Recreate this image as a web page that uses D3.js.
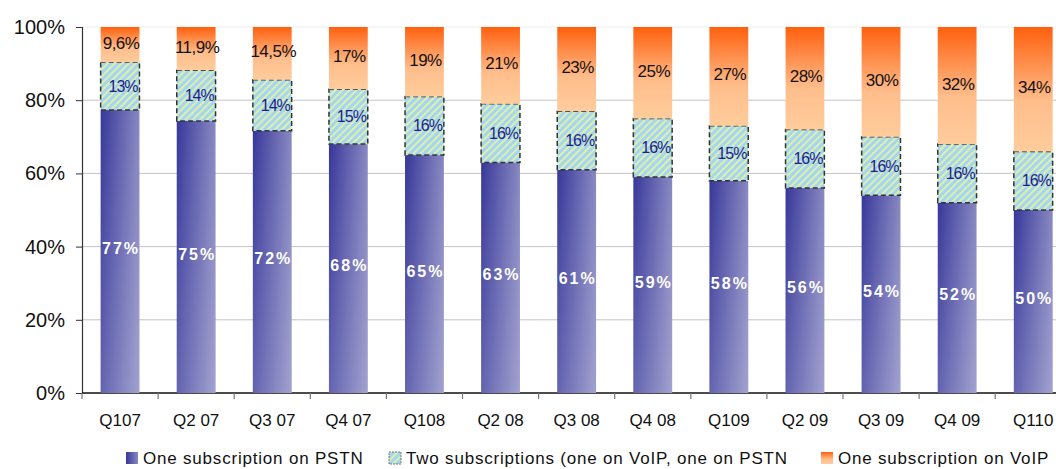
<!DOCTYPE html>
<html>
<head>
<meta charset="utf-8">
<script src="https://cdn.jsdelivr.net/npm/d3@7"></script>
<style>
  html, body { margin: 0; padding: 0; background: #fff; overflow: hidden; }
  svg { display: block; font-family: "Liberation Sans", Arial, sans-serif; }
</style>
</head>
<body>
<svg id="chart" width="1056" height="469"></svg>
<script>
// Quarters shown on the category axis
const quarters = ["Q107", "Q2 07", "Q3 07", "Q4 07", "Q108", "Q2 08", "Q3 08", "Q4 08", "Q109", "Q2 09", "Q3 09", "Q4 09", "Q110"];

// Share of subscriptions (percent) per quarter
const pstnOnly = [77, 75, 72, 68, 65, 63, 61, 59, 58, 56, 54, 52, 50];
const twoSubs = [13, 14, 14, 15, 16, 16, 16, 16, 15, 16, 16, 16, 16];
const voipOnly = [9.6, 11.9, 14.5, 17, 19, 21, 23, 25, 27, 28, 30, 32, 34];

const yTicks = [0, 20, 40, 60, 80, 100];
const seriesNames = ["One subscription on PSTN", "Two subscriptions (one on VoIP, one on  PSTN", "One subscription on VoIP"];

const svg = d3.select("#chart");
const defs = svg.append("defs");

// PSTN: dark-to-light horizontal gradient plus a soft lightening toward the bottom
const gP = defs.append("linearGradient").attr("id", "gPstn").attr("x1", 0).attr("y1", 0).attr("x2", 1).attr("y2", 0);
gP.append("stop").attr("offset", 0).attr("stop-color", "#37379a");
gP.append("stop").attr("offset", 1).attr("stop-color", "#8888c2");
const gPv = defs.append("linearGradient").attr("id", "gPstnV").attr("x1", 0).attr("y1", 0).attr("x2", 0).attr("y2", 1);
gPv.append("stop").attr("offset", 0).attr("stop-color", "#fff").attr("stop-opacity", 0);
gPv.append("stop").attr("offset", 1).attr("stop-color", "#fff").attr("stop-opacity", 0.22);

// VoIP: orange at the top fading to peach
const gV = defs.append("linearGradient").attr("id", "gVoip").attr("x1", 0).attr("y1", 0).attr("x2", 0).attr("y2", 1);
gV.append("stop").attr("offset", 0).attr("stop-color", "#ff600e");
gV.append("stop").attr("offset", 0.6).attr("stop-color", "#ffbe8c");
gV.append("stop").attr("offset", 1).attr("stop-color", "#ffcc9c");

// Two subscriptions: light blue with pale diagonal stripes
const pat = defs.append("pattern").attr("id", "hatch").attr("patternUnits", "userSpaceOnUse")
  .attr("width", 5).attr("height", 5).attr("patternTransform", "rotate(45)");
pat.append("rect").attr("width", 5).attr("height", 5).attr("fill", "#a4d6f2");
pat.append("rect").attr("x", 0).attr("width", 1.8).attr("height", 5).attr("fill", "#e4f2a6");

// Geometry
const plotLeft = 82, plotTop = 27, plotBottom = 393, step = 76.1;
const x = d3.scaleBand().domain(quarters)
  .range([plotLeft, plotLeft + step * quarters.length])
  .paddingInner(0.49).paddingOuter(0.245);
const y = d3.scaleLinear().domain([0, 100]).range([plotBottom, plotTop]);

// Normalised (100%) stack
const rows = quarters.map((q, i) => ({ q, pstn: pstnOnly[i], two: twoSubs[i], voip: voipOnly[i] }));
const stack = d3.stack().keys(["pstn", "two", "voip"]).offset(d3.stackOffsetExpand);
const layers = stack(rows);

// Gridlines
svg.append("g").selectAll("line").data(yTicks.filter(t => t > 0)).join("line")
  .attr("x1", plotLeft).attr("x2", 1056)
  .attr("y1", d => y(d)).attr("y2", d => y(d))
  .attr("stroke", d => d === 100 ? "#ececec" : "#c4c4c4").attr("stroke-width", 1);

// Y axis
const yAxis = svg.append("g").attr("transform", `translate(${plotLeft},0)`)
  .call(d3.axisLeft(y).tickValues(yTicks).tickFormat(d => d + "%").tickSize(6).tickPadding(11));
yAxis.select(".domain").attr("stroke", "#333").attr("stroke-width", 1.2);
yAxis.selectAll(".tick line").attr("stroke", "#333");
yAxis.selectAll("text").attr("font-size", 20).attr("fill", "#111").attr("font-family", "Liberation Sans, Arial, sans-serif");

// X axis (ticks at category boundaries)
const xg = svg.append("g");
xg.append("line").attr("x1", plotLeft).attr("x2", 1056).attr("y1", plotBottom).attr("y2", plotBottom)
  .attr("stroke", "#111").attr("stroke-width", 1.5);
xg.selectAll("line.tk").data(d3.range(quarters.length + 1)).join("line").attr("class", "tk")
  .attr("x1", i => plotLeft + i * x.step()).attr("x2", i => plotLeft + i * x.step())
  .attr("y1", plotBottom).attr("y2", plotBottom + 6).attr("stroke", "#777").attr("stroke-width", 1.2);
xg.selectAll("text").data(quarters).join("text")
  .attr("x", d => x(d) + x.bandwidth() / 2).attr("y", 426)
  .attr("text-anchor", "middle").attr("font-size", 17).attr("fill", "#111")
  .text(d => d);

// Bars
const bw = x.bandwidth();
const gBars = svg.append("g");
const pL = layers[0], tL = layers[1], vL = layers[2];
rows.forEach((r, i) => {
  const xx = x(r.q);
  const p = pL[i], t = tL[i], v = vL[i];
  // PSTN
  gBars.append("rect").attr("x", xx).attr("width", bw)
    .attr("y", y(p[1] * 100)).attr("height", y(p[0] * 100) - y(p[1] * 100)).attr("fill", "url(#gPstn)");
  gBars.append("rect").attr("x", xx).attr("width", bw)
    .attr("y", y(p[1] * 100)).attr("height", y(p[0] * 100) - y(p[1] * 100)).attr("fill", "url(#gPstnV)");
  // Two subscriptions with dashed outline
  gBars.append("rect").attr("x", xx).attr("width", bw)
    .attr("y", y(t[1] * 100)).attr("height", y(t[0] * 100) - y(t[1] * 100))
    .attr("fill", "url(#hatch)").attr("stroke", "#333").attr("stroke-width", 1.5).attr("stroke-dasharray", "5 3");
  // VoIP
  gBars.append("rect").attr("x", xx).attr("width", bw)
    .attr("y", y(v[1] * 100)).attr("height", y(v[0] * 100) - y(v[1] * 100)).attr("fill", "url(#gVoip)");
});

// Value labels
const fmt = v => (Number.isInteger(v) ? String(v) : String(v).replace(".", ",")) + "%";
const gLab = svg.append("g");
rows.forEach((r, i) => {
  const cx = x(r.q) + bw / 2;
  const p = pL[i], t = tL[i], v = vL[i];
  gLab.append("text").attr("x", cx + 1).attr("y", (y(p[0] * 100) + y(p[1] * 100)) / 2 - 3)
    .attr("dy", "0.35em").attr("text-anchor", "middle").attr("font-size", 16).attr("font-weight", "bold")
    .attr("letter-spacing", 2).attr("fill", "#fff").text(fmt(r.pstn));
  gLab.append("text").attr("x", cx + 3).attr("y", (y(t[0] * 100) + y(t[1] * 100)) / 2)
    .attr("dy", "0.35em").attr("text-anchor", "middle").attr("font-size", 16)
    .attr("letter-spacing", -1).attr("fill", "#1c1c8c").text(fmt(r.two));
  gLab.append("text").attr("x", cx + 1).attr("y", (y(v[0] * 100) + y(v[1] * 100)) / 2 - 2)
    .attr("dy", "0.35em").attr("text-anchor", "middle").attr("font-size", 17)
    .attr("letter-spacing", -0.5).attr("fill", "#111").text(fmt(r.voip));
});

// Legend
const legendX = [126, 389, 821];
const legendFill = ["url(#gPstn)", "url(#hatch)", "url(#gVoip)"];
const lg = svg.append("g");
seriesNames.forEach((name, i) => {
  lg.append("rect").attr("x", legendX[i]).attr("y", 452).attr("width", 12).attr("height", 12)
    .attr("fill", legendFill[i])
    .attr("stroke", i === 1 ? "#555" : "none").attr("stroke-width", 0.8).attr("stroke-dasharray", i === 1 ? "2 1" : null);
  lg.append("text").attr("x", legendX[i] + 17).attr("y", 464)
    .attr("font-size", 17).attr("letter-spacing", 0.8).attr("fill", "#111").text(name);
});
</script>
</body>
</html>
